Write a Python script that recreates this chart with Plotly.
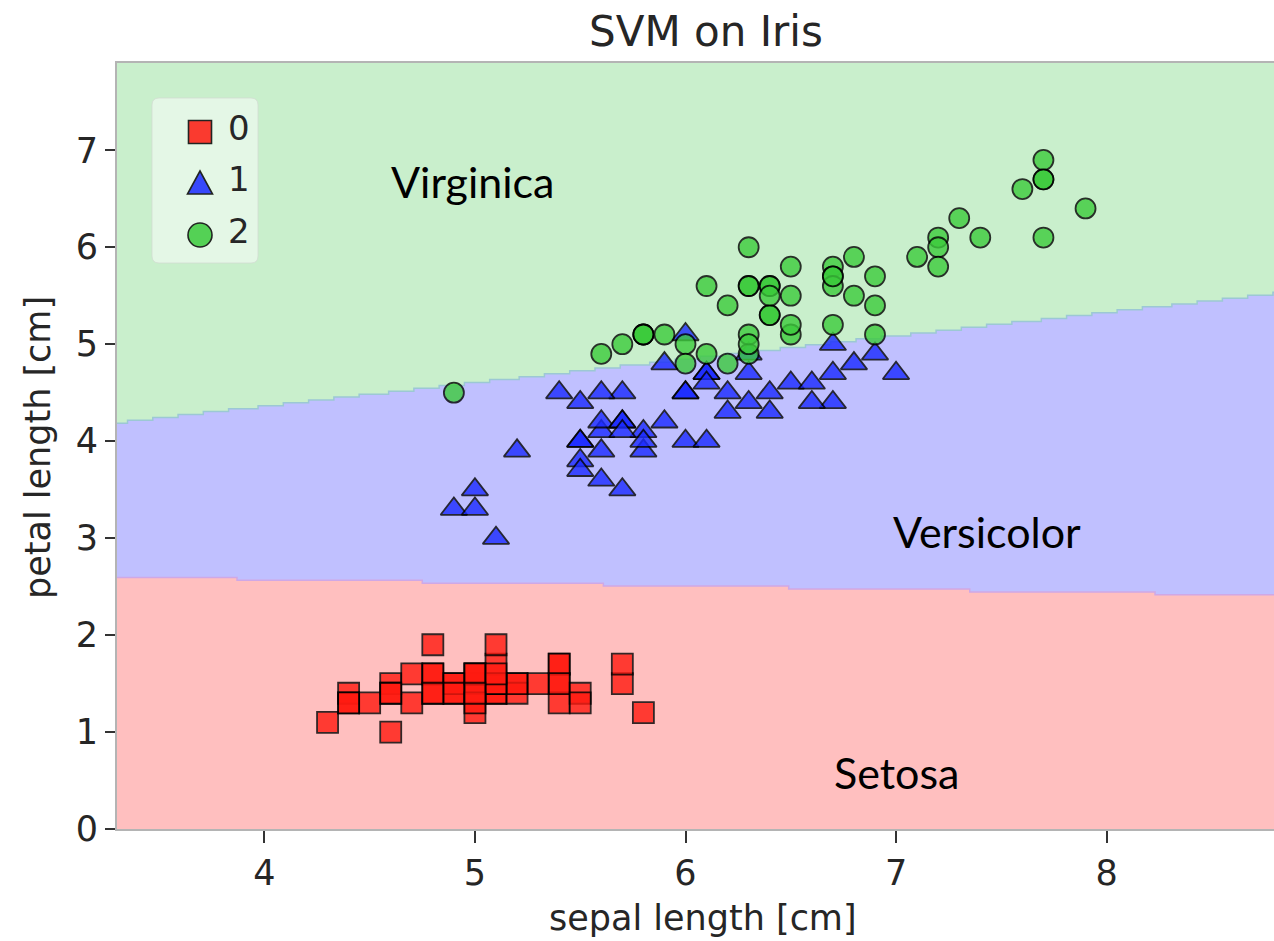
import numpy as np
import plotly.graph_objects as go

# Iris measurements: sepal length and petal length per class (cm)
setosa_sepal = [5.1, 4.9, 4.7, 4.6, 5.0, 5.4, 4.6, 5.0, 4.4, 4.9, 5.4, 4.8, 4.8, 4.3, 5.8, 5.7, 5.4, 5.1, 5.7, 5.1,
                5.4, 5.1, 4.6, 5.1, 4.8, 5.0, 5.0, 5.2, 5.2, 4.7, 4.8, 5.4, 5.2, 5.5, 4.9, 5.0, 5.5, 4.9, 4.4, 5.1,
                5.0, 4.5, 4.4, 5.0, 5.1, 4.8, 5.1, 4.6, 5.3, 5.0]
setosa_petal = [1.4, 1.4, 1.3, 1.5, 1.4, 1.7, 1.4, 1.5, 1.4, 1.5, 1.5, 1.6, 1.4, 1.1, 1.2, 1.5, 1.3, 1.4, 1.7, 1.5,
                1.7, 1.5, 1.0, 1.7, 1.9, 1.6, 1.6, 1.5, 1.4, 1.6, 1.6, 1.5, 1.5, 1.4, 1.5, 1.2, 1.3, 1.4, 1.3, 1.5,
                1.3, 1.3, 1.3, 1.6, 1.9, 1.4, 1.6, 1.4, 1.5, 1.4]

versicolor_sepal = [7.0, 6.4, 6.9, 5.5, 6.5, 5.7, 6.3, 4.9, 6.6, 5.2, 5.0, 5.9, 6.0, 6.1, 5.6, 6.7, 5.6, 5.8, 6.2, 5.6,
                    5.9, 6.1, 6.3, 6.1, 6.4, 6.6, 6.8, 6.7, 6.0, 5.7, 5.5, 5.5, 5.8, 6.0, 5.4, 6.0, 6.7, 6.3, 5.6, 5.5,
                    5.5, 6.1, 5.8, 5.0, 5.6, 5.7, 5.7, 6.2, 5.1, 5.7]
versicolor_petal = [4.7, 4.5, 4.9, 4.0, 4.6, 4.5, 4.7, 3.3, 4.6, 3.9, 3.5, 4.2, 4.0, 4.7, 3.6, 4.4, 4.5, 4.1, 4.5, 3.9,
                    4.8, 4.0, 4.9, 4.7, 4.3, 4.4, 4.8, 5.0, 4.5, 3.5, 3.8, 3.7, 3.9, 5.1, 4.5, 4.5, 4.7, 4.4, 4.1, 4.0,
                    4.4, 4.6, 4.0, 3.3, 4.2, 4.2, 4.2, 4.3, 3.0, 4.1]

virginica_sepal = [6.3, 5.8, 7.1, 6.3, 6.5, 7.6, 4.9, 7.3, 6.7, 7.2, 6.5, 6.4, 6.8, 5.7, 5.8, 6.4, 6.5, 7.7, 7.7, 6.0,
                   6.9, 5.6, 7.7, 6.3, 6.7, 7.2, 6.2, 6.1, 6.4, 7.2, 7.4, 7.9, 6.4, 6.3, 6.1, 7.7, 6.3, 6.4, 6.0, 6.9,
                   6.7, 6.9, 5.8, 6.8, 6.7, 6.7, 6.3, 6.5, 6.2, 5.9]
virginica_petal = [6.0, 5.1, 5.9, 5.6, 5.8, 6.6, 4.5, 6.3, 5.8, 6.1, 5.1, 5.3, 5.5, 5.0, 5.1, 5.3, 5.5, 6.7, 6.9, 5.0,
                   5.7, 4.9, 6.7, 4.9, 5.7, 6.0, 4.8, 4.9, 5.6, 5.8, 6.1, 6.4, 5.6, 5.1, 5.6, 6.1, 5.6, 5.5, 4.8, 5.4,
                   5.6, 5.1, 5.1, 5.9, 5.7, 5.2, 5.0, 5.2, 5.4, 5.1]

class_labels = ["0", "1", "2"]
region_names = ["Setosa", "Versicolor", "Virginica"]
region_name_x = [7.00, 7.43, 4.99]
region_name_y = [0.58, 3.07, 6.68]

# Linear SVM decision boundaries (petal length as a function of sepal length)
boundary_x = [3.3, 8.8]
boundary_setosa_versicolor = [2.60, 2.41]
boundary_versicolor_virginica = [4.19, 5.52]

x_ticks = [4, 5, 6, 7, 8]
y_ticks = [0, 1, 2, 3, 4, 5, 6, 7]
x_range = [3.3, 8.795]
y_range = [0.0, 7.9]
grid_step_x = 0.02
grid_step_y = 0.03

# Styling
region_colors = ["#FFBFBF", "#C0C0FF", "#C9EFCC"]
boundary_colors = ["#CFA8E6", "#9CC8D4"]
marker_colors = ["#FF1A10", "#1A2AFF", "#3CCB3C"]
marker_symbols = ["square", "triangle-up", "circle"]
marker_sizes = [21, 23, 20]

W, H = 1274, 941
M_L, M_R, M_T, M_B = 117, 0, 63, 112
PW, PH = W - M_L - M_R, H - M_T - M_B


def px_x(px):
    return (px - M_L) / PW


def px_y(py):
    return (H - M_B - py) / PH


def boundary_at(x, ys):
    slope = (ys[1] - ys[0]) / (boundary_x[1] - boundary_x[0])
    return ys[0] + (x - boundary_x[0]) * slope


# Decision-region grid
gx = np.arange(x_range[0] - grid_step_x, 8.9 + grid_step_x, grid_step_x)
gy = np.arange(y_range[0] - grid_step_y, y_range[1] + grid_step_y, grid_step_y)
XX, YY = np.meshgrid(gx, gy)
low = boundary_at(XX, boundary_setosa_versicolor)
high = boundary_at(XX, boundary_versicolor_virginica)
Z = np.where(YY < low, 0, np.where(YY < high, 1, 2))

colorscale = [
    [0.0, region_colors[0]], [1 / 3, region_colors[0]],
    [1 / 3, region_colors[1]], [2 / 3, region_colors[1]],
    [2 / 3, region_colors[2]], [1.0, region_colors[2]],
]

fig = go.Figure()
fig.add_trace(go.Heatmap(
    x=gx, y=gy, z=Z, zmin=0, zmax=2, colorscale=colorscale,
    showscale=False, hoverinfo="skip", zsmooth=False,
))

# Thin contour edges along the region borders (stepped, following the grid)
for ys, col in zip([boundary_setosa_versicolor, boundary_versicolor_virginica], boundary_colors):
    edge_y = np.ceil((boundary_at(gx, ys) - gy[0]) / grid_step_y) * grid_step_y + gy[0] - grid_step_y / 2
    fig.add_trace(go.Scatter(
        x=gx - grid_step_x / 2, y=edge_y, mode="lines", line=dict(color=col, width=1.5, shape="hv"),
        hoverinfo="skip", showlegend=False,
    ))

samples = [
    (setosa_sepal, setosa_petal),
    (versicolor_sepal, versicolor_petal),
    (virginica_sepal, virginica_petal),
]
for i, (sx, sy) in enumerate(samples):
    fig.add_trace(go.Scatter(
        x=sx, y=sy, mode="markers", name=class_labels[i], showlegend=False,
        marker=dict(symbol=marker_symbols[i], size=marker_sizes[i], color=marker_colors[i],
                    opacity=0.8, line=dict(color="black", width=1.8)),
    ))

# Region names
annotations = []
for name, ax_, ay_ in zip(region_names, region_name_x, region_name_y):
    annotations.append(dict(
        x=ax_, y=ay_, xref="x", yref="y", text=name, showarrow=False,
        xanchor="center", yanchor="middle",
        font=dict(family="Lato, Open Sans, sans-serif", size=43, color="black"),
    ))

# Axis titles
annotations.append(dict(
    x=px_x(703), y=px_y(918), xref="paper", yref="paper", text="sepal length [cm]",
    showarrow=False, xanchor="center", yanchor="middle",
    font=dict(family="DejaVu Sans", size=35, color="#262626"),
))
annotations.append(dict(
    x=px_x(38), y=px_y(448), xref="paper", yref="paper", text="petal length [cm]",
    showarrow=False, xanchor="center", yanchor="middle", textangle=-90,
    font=dict(family="DejaVu Sans", size=35, color="#262626"),
))

# Legend box with rounded corners
shapes = []
lx0, lx1, ly0, ly1, rr = 152, 258, 98, 263, 7
path = (f"M {px_x(lx0 + rr)},{px_y(ly0)} L {px_x(lx1 - rr)},{px_y(ly0)} "
        f"Q {px_x(lx1)},{px_y(ly0)} {px_x(lx1)},{px_y(ly0 + rr)} "
        f"L {px_x(lx1)},{px_y(ly1 - rr)} Q {px_x(lx1)},{px_y(ly1)} {px_x(lx1 - rr)},{px_y(ly1)} "
        f"L {px_x(lx0 + rr)},{px_y(ly1)} Q {px_x(lx0)},{px_y(ly1)} {px_x(lx0)},{px_y(ly1 - rr)} "
        f"L {px_x(lx0)},{px_y(ly0 + rr)} Q {px_x(lx0)},{px_y(ly0)} {px_x(lx0 + rr)},{px_y(ly0)} Z")
shapes.append(dict(type="path", path=path, xref="paper", yref="paper",
                   fillcolor="rgba(255,255,255,0.5)", line=dict(color="rgba(210,220,210,0.8)", width=1),
                   layer="above"))

item_cx = 200
item_cy = [132, 183, 235]
half = 11.5
for i, cy in enumerate(item_cy):
    fill = marker_colors[i]
    if marker_symbols[i] == "square":
        shapes.append(dict(type="rect", xref="paper", yref="paper",
                           x0=px_x(item_cx - half), x1=px_x(item_cx + half),
                           y0=px_y(cy + half), y1=px_y(cy - half),
                           fillcolor=fill, opacity=0.85, line=dict(color="black", width=1.6), layer="above"))
    elif marker_symbols[i] == "triangle-up":
        tri = (f"M {px_x(item_cx - 12.5)},{px_y(cy + 11)} L {px_x(item_cx + 12.5)},{px_y(cy + 11)} "
               f"L {px_x(item_cx)},{px_y(cy - 12)} Z")
        shapes.append(dict(type="path", path=tri, xref="paper", yref="paper",
                           fillcolor=fill, opacity=0.85, line=dict(color="black", width=1.6), layer="above"))
    else:
        shapes.append(dict(type="circle", xref="paper", yref="paper",
                           x0=px_x(item_cx - 12), x1=px_x(item_cx + 12),
                           y0=px_y(cy + 12), y1=px_y(cy - 12),
                           fillcolor=fill, opacity=0.85, line=dict(color="black", width=1.6), layer="above"))
    annotations.append(dict(
        x=px_x(226), y=px_y(cy - 4), xref="paper", yref="paper", text=class_labels[i],
        showarrow=False, xanchor="left", yanchor="middle",
        font=dict(family="DejaVu Sans", size=34, color="#262626"),
    ))

fig.update_layout(
    width=W, height=H,
    margin=dict(l=M_L, r=M_R, t=M_T, b=M_B, pad=0),
    paper_bgcolor="white", plot_bgcolor="white",
    title=dict(text="SVM on Iris", x=px_x(706), xref="paper", xanchor="center",
               y=1 - 31 / H, yref="container", yanchor="middle",
               font=dict(family="DejaVu Sans", size=42, color="#262626")),
    xaxis=dict(range=x_range, tickvals=x_ticks, ticks="outside", ticklen=12, tickwidth=2,
               tickcolor="#333333", showgrid=False, zeroline=False,
               showline=True, linecolor="#B4B4B4", linewidth=2, mirror=True,
               tickfont=dict(family="DejaVu Sans", size=35, color="#262626")),
    yaxis=dict(range=y_range, tickvals=y_ticks, ticks="outside", ticklen=10, tickwidth=2,
               tickcolor="#333333", showgrid=False, zeroline=False,
               showline=True, linecolor="#B4B4B4", linewidth=2, mirror=False,
               tickfont=dict(family="DejaVu Sans", size=35, color="#262626")),
    annotations=annotations,
    shapes=shapes,
    showlegend=False,
)

fig.write_html("out.html")
